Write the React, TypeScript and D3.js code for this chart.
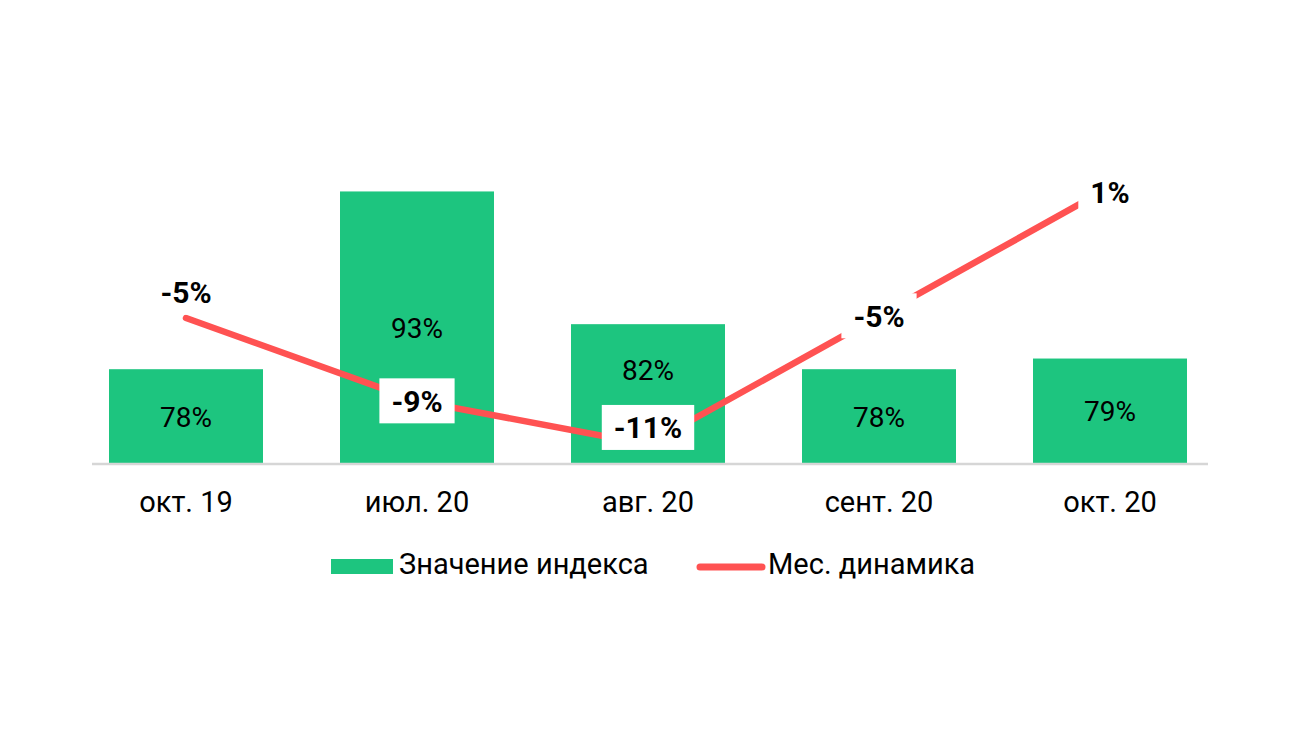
import { useEffect, useRef } from 'react'
import * as d3 from 'd3'

const CATEGORIES = ['окт. 19', 'июл. 20', 'авг. 20', 'сент. 20', 'окт. 20']
const INDEX_VALUES = [78, 93, 81.8, 78, 78.9]
const MONTHLY_CHANGE = [-5, -8.8, -10.8, -4.9, 1.0]
const LEGEND_LABELS = ['Значение индекса', 'Мес. динамика']

// vertical nudges of labels relative to their anchors (layout only)
const CHANGE_LABEL_DY = [-26, 0, -17, 0, 5]
const BAR_LABEL_DY = [0, 0, -24, 0, 0]

const W = 1300
const H = 731
const GREEN = '#1dc57f'
const RED = '#ff5252'
const FONT = 'Roboto, "Noto Sans", sans-serif'

export default function App() {
  const ref = useRef<SVGSVGElement>(null)

  useEffect(() => {
    if (!ref.current) return
    const svg = d3.select(ref.current)
    svg.selectAll('*').remove()

    const baseY = 464

    const x = d3.scaleBand<string>()
      .domain(CATEGORIES)
      .range([70.5, 1225.5])
      .paddingInner(1 / 3)
      .paddingOuter(1 / 6)

    const yBar = d3.scaleLinear().domain([70, 100]).range([baseY, baseY - 30 * 11.85])
    const yLine = d3.scaleLinear().domain([-12, 2]).range([318 + 7 * 21.8, 318 - 7 * 21.8])

    const cx = (c: string) => (x(c) ?? 0) + x.bandwidth() / 2

    // bars
    svg.append('g')
      .selectAll('rect')
      .data(INDEX_VALUES)
      .enter().append('rect')
      .attr('x', (_, i) => x(CATEGORIES[i]) ?? 0)
      .attr('y', d => yBar(d))
      .attr('width', x.bandwidth())
      .attr('height', d => baseY - yBar(d))
      .attr('fill', GREEN)

    // bar value labels
    svg.append('g')
      .selectAll('text')
      .data(INDEX_VALUES)
      .enter().append('text')
      .attr('x', (_, i) => cx(CATEGORIES[i]))
      .attr('y', (d, i) => (yBar(d) + baseY) / 2 + BAR_LABEL_DY[i])
      .attr('dy', '0.36em')
      .attr('text-anchor', 'middle')
      .attr('font-family', FONT)
      .attr('font-size', 28)
      .attr('fill', '#000')
      .text(d => `${Math.round(d)}%`)

    // axis line
    svg.append('line')
      .attr('x1', 92).attr('x2', 1208)
      .attr('y1', baseY).attr('y2', baseY)
      .attr('stroke', '#d6d6d6').attr('stroke-width', 2.5)

    // category labels
    svg.append('g')
      .selectAll('text')
      .data(CATEGORIES)
      .enter().append('text')
      .attr('x', d => cx(d))
      .attr('y', 512)
      .attr('text-anchor', 'middle')
      .attr('font-family', FONT)
      .attr('font-size', 29)
      .attr('fill', '#000')
      .text(d => d)

    // change line
    const line = d3.line<number>()
      .x((_, i) => cx(CATEGORIES[i]))
      .y(d => yLine(d))

    svg.append('path')
      .datum(MONTHLY_CHANGE)
      .attr('d', line)
      .attr('fill', 'none')
      .attr('stroke', RED)
      .attr('stroke-width', 6.5)
      .attr('stroke-linecap', 'round')
      .attr('stroke-linejoin', 'round')

    // change labels with white boxes
    const lg = svg.append('g')
    MONTHLY_CHANGE.forEach((v, i) => {
      const px = cx(CATEGORIES[i])
      const py = yLine(v) + CHANGE_LABEL_DY[i]
      const box = lg.append('rect').attr('fill', '#fff')
      const t = lg.append('text')
        .attr('x', px).attr('y', py)
        .attr('dy', '0.36em')
        .attr('text-anchor', 'middle')
        .attr('font-family', FONT)
        .attr('font-size', 30)
        .attr('font-weight', 'bold')
        .attr('fill', '#000')
        .text(`${Math.round(v)}%`)
      const w = (t.node() as SVGTextElement).getComputedTextLength() + 24
      box.attr('x', px - w / 2).attr('y', py - 22.5).attr('width', w).attr('height', 45)
    })

    // legend
    const leg = svg.append('g').attr('font-family', FONT).attr('font-size', 29).attr('fill', '#000')
    leg.append('rect')
      .attr('x', 331).attr('y', 559).attr('width', 62).attr('height', 15)
      .attr('fill', GREEN)
    leg.append('text').attr('x', 399).attr('y', 574).text(LEGEND_LABELS[0])
    leg.append('line')
      .attr('x1', 700).attr('x2', 762).attr('y1', 567).attr('y2', 567)
      .attr('stroke', RED).attr('stroke-width', 7).attr('stroke-linecap', 'round')
    leg.append('text').attr('x', 768).attr('y', 574).text(LEGEND_LABELS[1])
  }, [])

  return (
    <svg
      ref={ref}
      width={W}
      height={H}
      style={{ position: 'absolute', left: 0, top: 0, background: '#fff', display: 'block' }}
    />
  )
}
